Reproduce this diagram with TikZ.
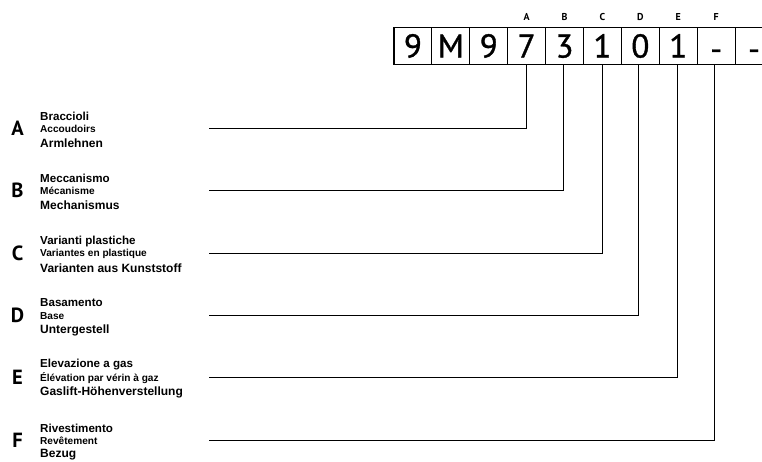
\documentclass[tikz,border=0pt]{standalone}
\usepackage{fontspec}
\setmainfont{Liberation Sans}
\newfontfamily\ptsans{PT Sans}
\newfontfamily\digitfont{PT Sans}[FakeBold=1]
\usetikzlibrary{calc}
\newcommand{\lowdash}{\raisebox{-5pt}{-}}
\begin{document}
\begin{tikzpicture}[x=1pt,y=-1pt,
  digit/.style={draw,line width=1.1pt,minimum width=37.9pt,minimum height=36.5pt,inner sep=0pt,font=\digitfont\fontsize{33}{33}\selectfont},
  toplet/.style={font=\ptsans\fontsize{10}{10}\selectfont\bfseries,inner sep=0pt},
  bigl/.style={font=\ptsans\fontsize{20.5}{20.5}\selectfont\bfseries,inner sep=0pt,anchor=center},
  lone/.style={font=\fontsize{11.6}{11.6}\selectfont\bfseries,inner sep=0pt,anchor=west},
  ltwo/.style={font=\fontsize{10.1}{10.1}\selectfont\bfseries,inner sep=0pt,anchor=west},
  lthree/.style={font=\fontsize{12}{12}\selectfont\bfseries,inner sep=0pt,anchor=west},
  conn/.style={line width=1pt}]
\useasboundingbox (0,0) rectangle (762,461);
\clip (0,0) rectangle (762,461);
% code boxes
\foreach \i/\t in {1/9,2/M,3/9,4/7,5/3,6/1,7/0,8/1,9/\lowdash,10/\lowdash}{
  \node[digit] (b\i) at ({394+18.95+(\i-1)*37.9},46) {\vphantom{9}\t};
}
% top letters
\foreach \i/\l in {4/A,5/B,6/C,7/D,8/E,9/F}{
  \node[toplet] (t\l) at ($(b\i)+(0,-29)$) {\l};
}
% labels
\foreach \l/\y/\a/\b/\c/\bi/\dx in {
  A/128/Braccioli/Accoudoirs/Armlehnen/4/0,
  B/190/Meccanismo/Mécanisme/Mechanismus/5/-1,
  C/253/Varianti plastiche/Variantes en plastique/Varianten aus Kunststoff/6/0,
  D/315/Basamento/Base/Untergestell/7/-2,
  E/377/Elevazione a gas/Élévation par vérin à gaz/Gaslift-Höhenverstellung/8/-1,
  F/440/Rivestimento/Revêtement/Bezug/9/-2}{
  \node[bigl] (L\l) at (17.5,\y) {\l};
  \node[lone] (n\l1) at (40,\y-12) {\a};
  \node[ltwo] (n\l2) at (40,\y+1) {\b};
  \node[lthree] (n\l3) at (40,\y+15) {\c};
  \coordinate (e\l) at (209,\y);
  \draw[conn] ([xshift=\dx pt]b\bi.south) |- (e\l);
}
\end{tikzpicture}
\end{document}
